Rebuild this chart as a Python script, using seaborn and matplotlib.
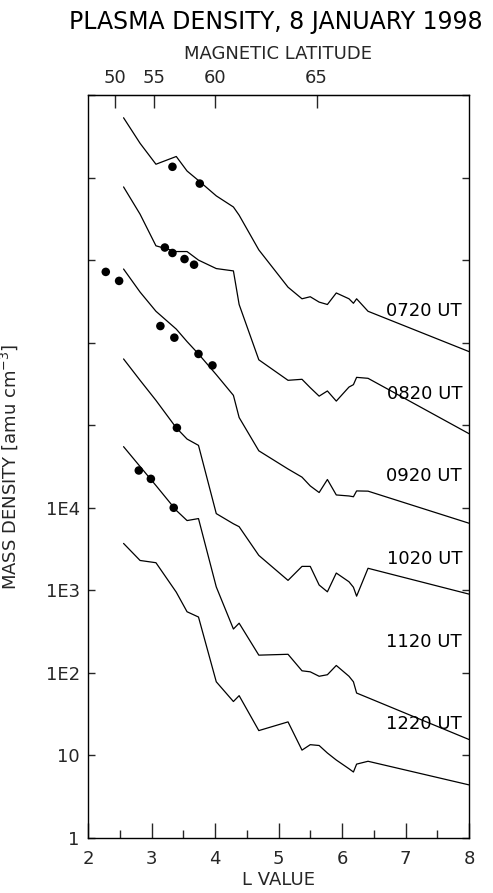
import numpy as np
import pandas as pd
import matplotlib
matplotlib.use("Agg")
import matplotlib.pyplot as plt
from matplotlib.ticker import MultipleLocator, NullLocator, FixedLocator
import seaborn as sns

# ---------------- data ----------------
times = ["0720 UT", "0820 UT", "0920 UT", "1020 UT", "1120 UT", "1220 UT"]
L_grid = [2.56, 2.82, 3.07, 3.39, 3.56, 3.74, 4.02, 4.29, 4.38, 4.69, 5.15,
          5.37, 5.50, 5.64, 5.77, 5.91, 6.11, 6.18, 6.23, 6.41, 8.00]
d0720 = [5.3e8, 2.6e8, 1.45e8, 1.8e8, 1.2e8, 9.2e7, 6.0e7, 4.4e7, 3.5e7, 1.33e7, 4.7e6,
         3.4e6, 3.6e6, 3.1e6, 2.9e6, 4.0e6, 3.4e6, 3.0e6, 3.4e6, 2.4e6, 7.8e5]
d0820 = [7.7e7, 3.6e7, 1.49e7, 1.27e7, 1.27e7, 1.0e7, 7.9e6, 7.4e6, 2.9e6, 6.2e5, 3.5e5,
         3.6e5, 2.85e5, 2.25e5, 2.6e5, 1.96e5, 2.9e5, 3.1e5, 3.8e5, 3.7e5, 7.9e4]
d0920 = [7.8e6, 4.1e6, 2.4e6, 1.46e6, 1.03e6, 7.3e5, 4.1e5, 2.3e5, 1.24e5, 4.9e4, 2.95e4,
         2.35e4, 1.84e4, 1.53e4, 2.2e4, 1.43e4, 1.39e4, 1.36e4, 1.6e4, 1.59e4, 6.5e3]
d1020 = [6.35e5, 3.5e5, 2.0e5, 9.3e4, 6.8e4, 5.7e4, 8.5e3, 6.4e3, 5.9e3, 2.65e3, 1.32e3,
         1.95e3, 1.95e3, 1.16e3, 9.6e2, 1.62e3, 1.27e3, 1.09e3, 8.5e2, 1.85e3, 9.0e2]
d1120 = [5.5e4, 3.16e4, 1.86e4, 9.3e3, 7.0e3, 7.4e3, 1.1e3, 3.4e2, 4.0e2, 1.64e2, 1.68e2,
         1.06e2, 1.03e2, 91, 95, 123, 91, 78, 57, 50, 15.6]
d1220 = [3.7e3, 2.3e3, 2.16e3, 9.5e2, 5.5e2, 4.75e2, 78, 45, 53, 20, 25.5,
         11.6, 13.5, 13.2, 10.7, 8.8, 6.9, 6.3, 7.85, 8.5, 4.4]

dot_L_0720 = [3.33, 3.76]
dot_d_0720 = [1.35e8, 8.45e7]
dot_L_0820 = [3.21, 3.33, 3.52, 3.67]
dot_d_0820 = [1.42e7, 1.22e7, 1.03e7, 8.8e6]
dot_L_0920 = [2.28, 2.49, 3.14, 3.36, 3.74, 3.96]
dot_d_0920 = [7.2e6, 5.6e6, 1.59e6, 1.15e6, 7.3e5, 5.3e5]
dot_L_1020 = [3.40]
dot_d_1020 = [9.3e4]
dot_L_1120 = [2.80, 2.99, 3.35]
dot_d_1120 = [2.83e4, 2.24e4, 1.0e4]

label_d = [2.4e6, 2.4e5, 2.4e4, 2.4e3, 2.4e2, 24]
lat_ticks = [50, 55, 60, 65]
y_ticks = [1, 10, 1e2, 1e3, 1e4, 1e5, 1e6, 1e7, 1e8, 1e9]
y_ticklabels = ["1", "10", "1E2", "1E3", "1E4", "", "", "", "", ""]

# ---------------- frames ----------------
curves = [d0720, d0820, d0920, d1020, d1120, d1220]
line_df = pd.concat([pd.DataFrame({"L": L_grid, "density": d, "time": t})
                     for t, d in zip(times, curves)], ignore_index=True)
dots_df = pd.concat([
    pd.DataFrame({"L": dot_L_0720, "density": dot_d_0720, "time": times[0]}),
    pd.DataFrame({"L": dot_L_0820, "density": dot_d_0820, "time": times[1]}),
    pd.DataFrame({"L": dot_L_0920, "density": dot_d_0920, "time": times[2]}),
    pd.DataFrame({"L": dot_L_1020, "density": dot_d_1020, "time": times[3]}),
    pd.DataFrame({"L": dot_L_1120, "density": dot_d_1120, "time": times[4]}),
], ignore_index=True)

# ---------------- plot ----------------
sns.set_style("ticks")
plt.rcParams["font.family"] = ["DejaVu Sans"]
plt.rcParams["mathtext.fontset"] = "dejavusans"

fig = plt.figure(figsize=(4.93, 8.93), dpi=100)
ax = fig.add_axes([88 / 493, 1 - 838 / 893, (469 - 88) / 493, (838 - 95) / 893])

black = {t: "black" for t in times}
sns.lineplot(data=line_df, x="L", y="density", hue="time", palette=black,
             estimator=None, sort=False, linewidth=0.9, legend=False, ax=ax)
sns.scatterplot(data=dots_df, x="L", y="density", hue="time",
                palette={t: "black" for t in times[:5]}, s=38, edgecolor="black",
                linewidth=0, legend=False, ax=ax, zorder=3)

ax.set_yscale("log")
ax.set_xlim(2, 8)
ax.set_ylim(1, 1e9)

ax.yaxis.set_major_locator(FixedLocator(y_ticks))
ax.set_yticklabels(y_ticklabels)
ax.yaxis.set_minor_locator(NullLocator())
ax.xaxis.set_major_locator(MultipleLocator(1))
ax.xaxis.set_minor_locator(MultipleLocator(0.5))

ax.tick_params(axis="y", which="major", direction="in", length=5, width=1,
               left=True, right=True, labelsize=13, pad=6)
ax.tick_params(axis="x", which="major", direction="in", length=11, width=1,
               bottom=True, top=False, labelsize=13, pad=9)
ax.tick_params(axis="x", which="minor", direction="in", length=5.5, width=1,
               bottom=True, top=False)

for sp in ax.spines.values():
    sp.set_visible(True)
    sp.set_color("black")
    sp.set_linewidth(1.0)

ax.set_xlabel("L VALUE", fontsize=13, labelpad=2)
ax.set_ylabel("MASS DENSITY [amu cm$^{-3}$]", fontsize=13)
ax.yaxis.set_label_coords(-0.178, 0.5)


def L_to_lat(L):
    L = np.clip(np.asarray(L, dtype=float), 1.0001, None)
    return np.degrees(np.arccos(np.sqrt(1.0 / L)))


def lat_to_L(lat):
    lat = np.clip(np.asarray(lat, dtype=float), 0, 89.9)
    return 1.0 / np.cos(np.radians(lat)) ** 2


top = ax.secondary_xaxis("top", functions=(L_to_lat, lat_to_L))
top.set_xticks(lat_ticks)
top.set_xticklabels([str(v) for v in lat_ticks])
top.xaxis.set_minor_locator(NullLocator())
top.tick_params(axis="x", which="major", direction="in", length=9.5, width=1,
                labelsize=13, pad=6)
top.set_xlabel("MAGNETIC LATITUDE", fontsize=13, labelpad=7)
top.spines["top"].set_color("black")

for t, yv in zip(times, label_d):
    ax.text(7.89, yv, t, ha="right", va="center", fontsize=13, color="black")

fig.text(276 / 493, 1 - 22 / 893, "PLASMA DENSITY, 8 JANUARY 1998",
         ha="center", va="center", fontsize=17, color="black")

fig.savefig("out.png", dpi=100)
